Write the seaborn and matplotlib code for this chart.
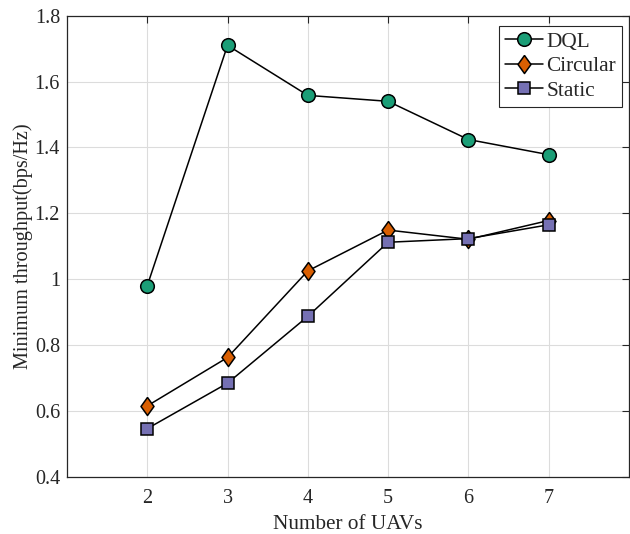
import matplotlib
matplotlib.use("Agg")
import matplotlib.pyplot as plt
import pandas as pd
import seaborn as sns
from matplotlib.ticker import FuncFormatter

# values
n_uavs = [2, 3, 4, 5, 6, 7]
dql = [0.98, 1.71, 1.558, 1.54, 1.424, 1.378]
circular = [0.615, 0.762, 1.025, 1.149, 1.121, 1.178]
static = [0.546, 0.684, 0.887, 1.112, 1.123, 1.165]

sns.set_style("whitegrid", {"grid.color": "#dcdcdc", "axes.edgecolor": "#262626"})
plt.rcParams["font.family"] = ["Liberation Serif", "DejaVu Serif"]

fig = plt.figure(figsize=(6.3, 5.34), dpi=100)
ax = fig.add_axes([0.1063, 0.1073, 0.8920, 0.8633])

# MATLAB-like diamond, a bit wider than matplotlib's thin diamond
diamond = [(0, 1), (0.72, 0), (0, -1), (-0.72, 0), (0, 1)]

series = [
    ("DQL", dql, "o", "#1b9e77", 9.8),
    ("Circular", circular, diamond, "#d95f02", 13),
    ("Static", static, "s", "#7570b3", 8),
]
for name, vals, mk, col, ms in series:
    df = pd.DataFrame({"x": n_uavs, "y": vals})
    sns.lineplot(
        data=df, x="x", y="y", ax=ax, color="black", linewidth=1.1,
        marker=mk, markersize=ms, markerfacecolor=col,
        markeredgecolor="black", markeredgewidth=1.1, label=name,
    )

ax.set_xlim(1, 8)
ax.set_ylim(0.4, 1.8)
ax.set_xticks(n_uavs)
ax.set_yticks([0.4, 0.6, 0.8, 1.0, 1.2, 1.4, 1.6, 1.8])
ax.yaxis.set_major_formatter(FuncFormatter(lambda v, p: f"{v:g}"))
ax.tick_params(direction="in", length=5, width=0.8, labelsize=14.5,
               top=True, right=True, colors="#262626", labelcolor="#262626")
ax.tick_params(axis="x", pad=9)
ax.tick_params(axis="y", pad=5)
for s in ax.spines.values():
    s.set_linewidth(0.9)
    s.set_color("#262626")
ax.grid(True, color="#dcdcdc", linewidth=0.8)

ax.set_xlabel("Number of UAVs", fontsize=15.3, color="#262626", labelpad=5)
ax.set_ylabel("Minimum throughput(bps/Hz)", fontsize=14.6, color="#262626", labelpad=1)

leg = ax.legend(loc="upper right", bbox_to_anchor=(0.9875, 0.978),
                fontsize=15.3, frameon=True, fancybox=False,
                edgecolor="#262626", framealpha=1, handlelength=1.8,
                handletextpad=0.15, borderpad=0.28, labelspacing=0.22,
                borderaxespad=0)
leg.get_frame().set_linewidth(0.8)

fig.savefig("out.png", dpi=100)
